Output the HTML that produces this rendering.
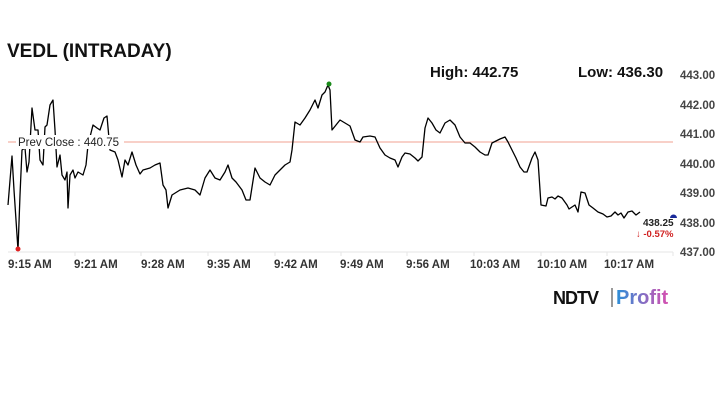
<!DOCTYPE html>
<html><head><meta charset="utf-8"><style>
html,body{margin:0;padding:0;background:#fff;}
body{width:720px;height:405px;overflow:hidden;position:relative;font-family:"Liberation Sans",Arial,sans-serif;}
</style></head><body>
<svg width="720" height="405" viewBox="0 0 720 405" xmlns="http://www.w3.org/2000/svg" style="position:absolute;left:0;top:0">
<text x="7" y="57" font-family="Liberation Sans, sans-serif" font-weight="bold" font-size="19" fill="#111">VEDL (INTRADAY)</text>
<text x="430" y="77" font-family="Liberation Sans, sans-serif" font-weight="bold" font-size="15" fill="#111">High: 442.75</text>
<text x="578" y="77" font-family="Liberation Sans, sans-serif" font-weight="bold" font-size="15" fill="#111">Low: 436.30</text>
<g font-family="Liberation Sans, sans-serif" font-weight="bold" font-size="11.5" fill="#444">
<text x="680" y="79">443.00</text>
<text x="680" y="109">442.00</text>
<text x="680" y="138">441.00</text>
<text x="680" y="168">440.00</text>
<text x="680" y="197">439.00</text>
<text x="680" y="227">438.00</text>
<text x="680" y="256">437.00</text>
</g>
<line x1="8" y1="252" x2="673" y2="252" stroke="#e6e6e6" stroke-width="1"/>
<g stroke="#e6e6e6"><line x1="75" y1="252" x2="75" y2="256"/><line x1="141" y1="252" x2="141" y2="256"/><line x1="208" y1="252" x2="208" y2="256"/><line x1="275" y1="252" x2="275" y2="256"/><line x1="341" y1="252" x2="341" y2="256"/><line x1="407" y1="252" x2="407" y2="256"/><line x1="474" y1="252" x2="474" y2="256"/><line x1="541" y1="252" x2="541" y2="256"/><line x1="607" y1="252" x2="607" y2="256"/><line x1="673" y1="252" x2="673" y2="256"/></g>
<g font-family="Liberation Sans, sans-serif" font-weight="bold" font-size="11.5" fill="#333">
<text x="8" y="268">9:15 AM</text><text x="74" y="268">9:21 AM</text><text x="141" y="268">9:28 AM</text><text x="207" y="268">9:35 AM</text><text x="274" y="268">9:42 AM</text><text x="340" y="268">9:49 AM</text><text x="406" y="268">9:56 AM</text><text x="470" y="268">10:03 AM</text><text x="537" y="268">10:10 AM</text><text x="604" y="268">10:17 AM</text>
</g>
<line x1="8" y1="142" x2="673" y2="142" stroke="#f0a090" stroke-width="1"/>
<polyline fill="none" stroke="#000" stroke-width="1.3" stroke-linejoin="round" points="8,205 12,156 14,190 18,250 20,195 22,150 25,148 27,172 29,162 32,108 35,130 38,130 40,160 43,165 45,127 47,125 50,105 53,100 55,130 57,167 60,155 62,175 65,180 67,172 68,208 70,175 73,170 75,178 78,172 83,175 86,165 88,145 93,125 97,128 100,130 104,118 107,116 110,150 115,152 118,160 122,177 125,160 128,165 132,152 136,165 140,174 143,170 150,168 155,165 160,163 163,185 166,190 168,208 172,195 180,190 188,188 195,190 200,195 205,178 210,170 215,178 220,180 225,172 228,165 232,178 236,182 242,190 246,200 250,200 255,168 260,178 265,182 270,185 275,175 280,170 285,165 290,162 292,150 295,122 300,125 305,118 310,110 315,100 318,108 322,95 325,92 328,85 330,90 332,130 336,125 340,120 345,123 350,126 355,140 360,142 363,137 370,136 375,137 380,148 385,155 390,158 395,160 398,167 402,157 405,153 410,154 415,158 418,161 422,157 425,128 428,118 432,123 436,130 440,133 445,123 450,120 455,125 460,137 465,143 470,143 475,147 480,152 485,155 488,155 492,143 500,139 505,137 508,142 512,150 516,158 520,167 524,172 527,172 532,158 535,152 538,160 541,205 546,206 548,198 552,197 555,199 558,196 562,198 567,205 569,209 572,207 575,205 578,212 581,192 585,193 589,205 593,208 598,212 603,214 607,217 611,216 615,212 618,215 621,213 624,218 628,212 632,211 636,215 640,212"/>
<rect x="16" y="135" width="108" height="14" fill="#fff"/>
<text x="18" y="146" font-family="Liberation Sans, sans-serif" font-size="11.5" fill="#222">Prev Close : 440.75</text>
<circle cx="18" cy="249" r="2.5" fill="#e02020"/>
<circle cx="329" cy="84" r="2.5" fill="#1a8a1a"/>
<path d="M670,218 a3.5,3.5 0 0 1 7,0 z" fill="#1a2a9a"/>
<text x="643" y="226" font-family="Liberation Sans, sans-serif" font-weight="bold" font-size="10" fill="#222">438.25</text>
<text x="636" y="237" font-family="Liberation Sans, sans-serif" font-weight="bold" font-size="9.5" fill="#d02020">↓ -0.57%</text>
<text x="553" y="304" font-family="Liberation Sans, sans-serif" font-weight="bold" font-size="18" fill="#111" letter-spacing="-1">NDTV</text>
<line x1="612" y1="288" x2="612" y2="307" stroke="#333" stroke-width="1"/>
<defs><linearGradient id="g" x1="0" x2="1"><stop offset="0" stop-color="#2a8fd8"/><stop offset="1" stop-color="#d84fb0"/></linearGradient></defs>
<text x="616" y="304" font-family="Liberation Sans, sans-serif" font-weight="bold" font-size="20" fill="url(#g)">Profit</text>
</svg>
</body></html>
